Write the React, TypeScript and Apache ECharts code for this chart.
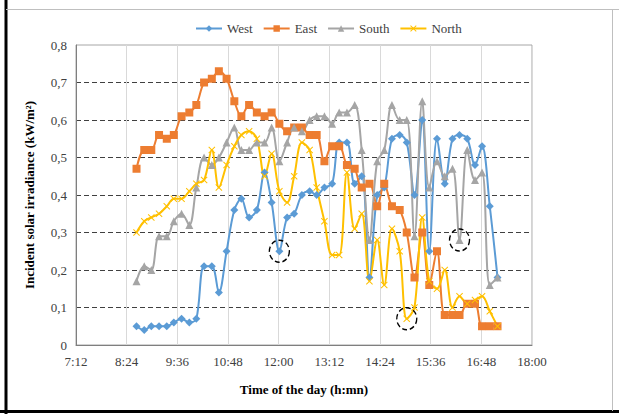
import React, { useEffect, useRef } from "react";
import * as echarts from "echarts";

const times = [
  "8:38", "8:49", "8:59", "9:10", "9:21", "9:31", "9:42", "9:53", "10:03", "10:14",
  "10:25", "10:35", "10:46", "10:57", "11:07", "11:18", "11:29", "11:40", "11:50", "12:01",
  "12:12", "12:22", "12:33", "12:44", "12:54", "13:05", "13:16", "13:26", "13:37", "13:48",
  "13:58", "14:09", "14:20", "14:30", "14:41", "14:52", "15:02", "15:13", "15:24", "15:34",
  "15:45", "15:56", "16:07", "16:17", "16:28", "16:39", "16:49", "17:00", "17:11",
];

const west = [
  0.05, 0.04, 0.05, 0.05, 0.05, 0.06, 0.07, 0.06, 0.07, 0.21,
  0.21, 0.14, 0.25, 0.36, 0.39, 0.34, 0.36, 0.46, 0.38, 0.25,
  0.34, 0.35, 0.40, 0.41, 0.40, 0.42, 0.43, 0.54, 0.54, 0.43,
  0.45, 0.18, 0.40, 0.42, 0.55, 0.56, 0.54, 0.40, 0.60, 0.25,
  0.55, 0.43, 0.55, 0.56, 0.55, 0.48, 0.53, 0.37, 0.18,
];

const east = [
  0.47, 0.52, 0.52, 0.56, 0.55, 0.56, 0.61, 0.62, 0.64, 0.70,
  0.71, 0.73, 0.71, 0.65, 0.61, 0.64, 0.62, 0.61, 0.62, 0.59,
  0.57, 0.58, 0.58, 0.56, 0.56, 0.49, 0.53, 0.53, 0.48, 0.47,
  0.42, 0.43, 0.37, 0.43, 0.37, 0.36, 0.30, 0.18, 0.30, 0.16,
  0.25, 0.08, 0.08, 0.08, 0.11, 0.11, 0.05, 0.05, 0.05,
];

const south = [
  0.17, 0.21, 0.20, 0.29, 0.29, 0.33, 0.35, 0.32, 0.42, 0.50,
  0.48, 0.50, 0.54, 0.58, 0.52, 0.52, 0.54, 0.54, 0.58, 0.49,
  0.54, 0.58, 0.57, 0.60, 0.61, 0.61, 0.59, 0.62, 0.62, 0.64,
  0.52, 0.28, 0.49, 0.52, 0.64, 0.60, 0.60, 0.29, 0.65, 0.42,
  0.49, 0.45, 0.47, 0.28, 0.52, 0.44, 0.46, 0.16, 0.18,
];

const north = [
  0.30, 0.33, 0.34, 0.35, 0.37, 0.39, 0.39, 0.41, 0.43, 0.44,
  0.52, 0.42, 0.48, 0.53, 0.56, 0.57, 0.55, 0.45, 0.51, 0.41,
  0.38, 0.45, 0.54, 0.52, 0.42, 0.33, 0.24, 0.24, 0.46, 0.31,
  0.35, 0.17, 0.28, 0.16, 0.31, 0.25, 0.07, 0.10, 0.34, 0.17,
  0.15, 0.20, 0.10, 0.13, 0.11, 0.12, 0.13, 0.09, 0.05,
];

// indices of the circled (dashed) points
const circledWest = 19;
const circledNorth = 36;
const circledSouth = 43;

const toMin = (t: string) => {
  const [h, m] = t.split(":").map(Number);
  return h * 60 + m;
};
const fmtTime = (v: number) => {
  const h = Math.floor(v / 60);
  const m = Math.round(v - h * 60);
  return h + ":" + (m < 10 ? "0" + m : "" + m);
};

const FONT = "'Liberation Serif', 'Times New Roman', serif";
const xSymbol =
  "path://M0,1L1,0L5,4L9,0L10,1L6,5L10,9L9,10L5,6L1,10L0,9L4,5Z";

export default function App() {
  const ref = useRef<HTMLDivElement>(null);
  useEffect(() => {
    document.body.style.margin = "0";
    if (!ref.current) return;
    const chart = echarts.init(ref.current, null, { renderer: "svg" });
    const mk = (arr: number[]) => times.map((t, i) => [toMin(t), arr[i]]);
    const circle = (idx: number, arr: number[]) => ({
      symbol: "circle",
      symbolSize: [20, 22],
      silent: true,
      label: { show: false },
      itemStyle: {
        color: "rgba(0,0,0,0)",
        borderColor: "#000",
        borderWidth: 1.4,
        borderType: [5, 3],
      },
      data: [{ coord: [toMin(times[idx]), arr[idx]] }],
    });
    const baseSeries = (name: string, color: string, arr: number[], symbol: string, size: number) => ({
      name,
      type: "line",
      data: mk(arr),
      smooth: 0.35,
      symbol,
      symbolSize: size,
      showAllSymbol: true,
      lineStyle: { color, width: 2 },
      itemStyle: { color, borderWidth: 0 },
      z: 3,
    });
    chart.setOption({
      animation: false,
      backgroundColor: "#fff",
      textStyle: { fontFamily: FONT },
      legend: {
        top: 17,
        left: 190,
        itemGap: 10,
        itemWidth: 26,
        itemHeight: 8,
        textStyle: { fontFamily: FONT, fontSize: 13, color: "#404040" },
        data: ["West", "East", "South", "North"],
      },
      grid: {
        left: 76,
        right: 87,
        top: 45,
        bottom: 69,
        show: true,
        borderColor: "#a6a6a6",
        borderWidth: 1,
      },
      xAxis: {
        type: "value",
        min: 432,
        max: 1080,
        interval: 72,
        name: "Time of the day (h:mn)",
        nameLocation: "middle",
        nameGap: 38,
        nameTextStyle: { fontFamily: FONT, fontSize: 13, fontWeight: "bold", color: "#000" },
        axisLine: { show: true, lineStyle: { color: "#7f7f7f", width: 1 } },
        axisTick: { show: false },
        axisLabel: {
          formatter: (v: number) => fmtTime(v),
          fontFamily: FONT,
          fontSize: 13,
          color: "#404040",
          margin: 10,
        },
        splitLine: { show: true, lineStyle: { color: "#d9d9d9", width: 1 } },
      },
      yAxis: {
        type: "value",
        min: 0,
        max: 0.8,
        interval: 0.1,
        name: "Incident solar irradiance (kW/m²)",
        nameLocation: "middle",
        nameGap: 40,
        nameTextStyle: { fontFamily: FONT, fontSize: 13, fontWeight: "bold", color: "#000" },
        axisLine: { show: true, lineStyle: { color: "#7f7f7f", width: 1 } },
        axisTick: { show: false },
        axisLabel: {
          formatter: (v: number) => (v === 0 ? "0" : v.toFixed(1).replace(".", ",")),
          fontFamily: FONT,
          fontSize: 13,
          color: "#404040",
          margin: 9,
        },
        splitLine: {
          show: true,
          showMinLine: false,
          showMaxLine: false,
          lineStyle: { color: "#404040", width: 1, type: [5, 3] },
        },
      },
      series: [
        { ...baseSeries("West", "#5B9BD5", west, "diamond", 8), markPoint: circle(circledWest, west) },
        baseSeries("East", "#ED7D31", east, "rect", 8),
        { ...baseSeries("South", "#A5A5A5", south, "triangle", 8), markPoint: circle(circledSouth, south) },
        { ...baseSeries("North", "#FFC000", north, xSymbol, 7), markPoint: circle(circledNorth, north) },
      ],
      graphic: [
        { type: "line", shape: { x1: 6, y1: 0, x2: 6, y2: 414 }, style: { stroke: "#000", lineWidth: 3 } },
        { type: "line", shape: { x1: 0, y1: 411.5, x2: 619, y2: 411.5 }, style: { stroke: "#000", lineWidth: 3 } },
        { type: "line", shape: { x1: 6, y1: 9.5, x2: 619, y2: 9.5 }, style: { stroke: "#bfbfbf", lineWidth: 1 } },
        { type: "line", shape: { x1: 612.5, y1: 9.5, x2: 612.5, y2: 411 }, style: { stroke: "#bfbfbf", lineWidth: 1 } },
      ],
    });
    return () => chart.dispose();
  }, []);
  return <div ref={ref} style={{ width: 619, height: 414 }} />;
}
